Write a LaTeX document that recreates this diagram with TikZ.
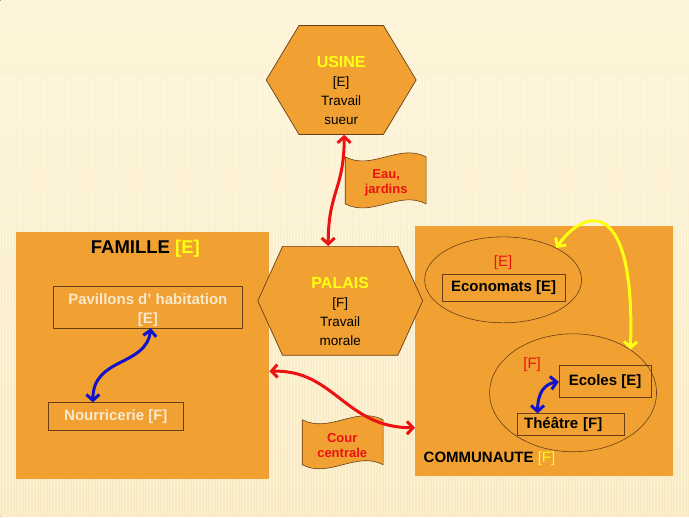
\documentclass[tikz,border=0pt]{standalone}
\usepackage{fontspec}
\setmainfont{Liberation Sans}
\usetikzlibrary{arrows.meta,positioning,shapes.geometric,shapes.symbols}
\definecolor{Paper}{RGB}{253,245,218}
\definecolor{PaperDark}{RGB}{249,234,192}
\definecolor{Tan}{RGB}{240,161,50}
\definecolor{Rim}{RGB}{105,62,22}
\definecolor{Cream}{RGB}{250,232,205}
\definecolor{Sun}{RGB}{255,255,20}
\definecolor{Brick}{RGB}{236,18,18}
\definecolor{Ink}{RGB}{18,18,205}

\begin{document}
\begin{tikzpicture}[x=1pt,y=1pt, font=\fontsize{15}{18}\selectfont\bfseries,
  zone/.style={fill=Tan,inner sep=0pt},
  hex/.style={signal,signal to=west and east,draw=Rim,line width=.7pt,fill=Tan,inner sep=0pt},
  hextxt/.style={align=center,font=\fontsize{13.5}{19}\selectfont},
  b/.style={draw=Rim,line width=.6pt,align=center,inner sep=0pt},
  oval/.style={ellipse,draw=Rim,line width=.6pt,inner sep=0pt},
  flag/.style={draw=Rim,line width=.6pt,fill=Tan},
  flagtxt/.style={align=center,text=Brick,font=\fontsize{13}{15}\selectfont\bfseries},
  link/.style={line width=3pt,>={Straight Barb[length=6pt,width=13pt]},<->}]
\fill[top color=Paper,bottom color=PaperDark] (0,0) rectangle (689,517);
\foreach \x in {0,3,...,689} \draw[white,opacity=.35,line width=.8pt] (\x,0) -- (\x,442);
\useasboundingbox (0,0) rectangle (689,517);

\node[zone,minimum width=253pt,minimum height=247pt] (fam) at (142.5,161.5) {};
\node[zone,minimum width=258pt,minimum height=250pt] (com) at (544,166) {};
\node (famtitle) at (145,268) {\fontsize{18.5}{20}\selectfont FAMILLE \textcolor{Sun}{[E]}};
\node[b,text=Cream,font=\fontsize{15}{19}\selectfont\bfseries,minimum width=189pt,minimum height=42pt,text height=33pt,text depth=0pt] (pav) at (147.5,210) {Pavillons d’ habitation\\{}[E]};
\node[b,text=Cream,minimum width=135pt,minimum height=28pt] (nour) at (115.5,100) {Nourricerie [F]};

\node[oval,minimum width=157pt,minimum height=86pt] (ovE) at (503,237) {};
\node[oval,minimum width=167pt,minimum height=118pt] (ovF) at (573,124) {};
\node[text=Brick,font=\fontsize{15}{18}\selectfont] (tagE) at (503,254) {[E]};
\node[text=Brick,font=\fontsize{15}{18}\selectfont] (tagF) at (532,152) {[F]};
\node[b,minimum width=123pt,minimum height=27pt] (econ) at (503.5,229.5) {Economats [E]};
\node[b,minimum width=92pt,minimum height=32pt] (ecol) at (605,135) {Ecoles [E]};
\node[b,minimum width=107pt,minimum height=22pt,text width=93pt,align=left,inner xsep=7pt] (thea) at (570.5,92) {Théâtre [F]};
\node[anchor=west] (comtitle) at (420,58) {COMMUNAUTE \textcolor{Sun}{\mdseries[F]}};

\node[hex,minimum width=150pt,minimum height=109pt,signal pointer angle=118] (usine) at (341,437) {};
\node[hextxt] (usinetxt) at ([yshift=-11pt]usine.center) {\fontsize{16}{19}\selectfont\bfseries\textcolor{Sun}{USINE}\\{}[E]\\Travail\\sueur};
\node[hex,minimum width=165pt,minimum height=109pt,signal pointer angle=131] (palais) at (340,216) {};
\node[hextxt] (palaistxt) at ([yshift=-11pt]palais.center) {\fontsize{16}{19}\selectfont\bfseries\textcolor{Sun}{PALAIS}\\{}[F]\\Travail\\morale};

\draw[flag] (345,360) .. controls (372,346) and (399,374) .. (426,360) -- (426,313) .. controls (399,327) and (372,299) .. (345,313) -- cycle;
\node[flagtxt] (eau) at (386,334) {Eau,\\jardins};
\draw[flag] (302,97) .. controls (329,83) and (356,111) .. (383,97) -- (383,52) .. controls (356,66) and (329,38) .. (302,52) -- cycle;
\node[flagtxt] (cour) at (342,71) {Cour\\centrale};

\draw[link,Brick] ([xshift=3pt]usine.south) .. controls +(0,-55) and +(0,55) .. ([xshift=-12pt]palais.north);
\draw[link,Brick] ([yshift=-16pt]fam.east) .. controls +(65,2) and +(-70,0) .. ([yshift=-77pt]com.west);
\draw[link,Ink] ([xshift=3pt]pav.south) .. controls +(-5,-39) and +(0,46) .. ([xshift=-23pt]nour.north);
\draw[link,Ink] (ecol.west) .. controls +(-14,-2) and +(0,21) .. ([xshift=-33pt]thea.north);
\draw[link,Sun] (ovE.31) .. controls +(28,40) and +(5,155) .. (ovF.37);
\end{tikzpicture}
\end{document}
